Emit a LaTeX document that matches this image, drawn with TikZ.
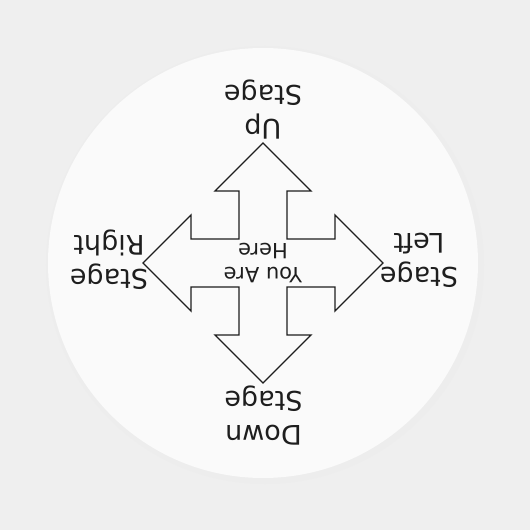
\documentclass[tikz,border=0pt]{standalone}
\usepackage{fontspec}
\setmainfont{DejaVu Sans}
\usepackage{tikz}
\usetikzlibrary{positioning}

\definecolor{bggray}{HTML}{EFEFEF}
\definecolor{buttonface}{HTML}{FAFAFA}
\definecolor{rimgray}{HTML}{EDEDED}
\definecolor{inkgray}{HTML}{1E1E1E}

\tikzset{
  stagelabel/.style={rotate=180,align=center,inner sep=0pt,text=inkgray,
    font=\fontsize{27}{34}\selectfont},
  herelabel/.style={rotate=180,align=center,inner sep=0pt,text=inkgray,
    font=\fontsize{21}{24.5}\selectfont},
  crossarrow/.style={draw=inkgray,line width=1.3pt,line join=miter,fill=buttonface}
}

\begin{document}
\begin{tikzpicture}[x=1pt,y=1pt]
        \fill[bggray] (-263,-267) rectangle (267,263);
        \useasboundingbox (-263,-267) rectangle (267,263);

        \fill[gray!12,opacity=.6] (4,-5) circle (221);
        \fill[rimgray] (2,-2) circle (219);
        \fill[buttonface] (0,0) circle (215);

        \draw[crossarrow] (0,120) -- (48,72) -- (24,72) -- (24,24) -- (72,24) -- (72,48)
          -- (120,0) -- (72,-48) -- (72,-24) -- (24,-24) -- (24,-72) -- (48,-72)
          -- (0,-120) -- (-48,-72) -- (-24,-72) -- (-24,-24) -- (-72,-24) -- (-72,-48)
          -- (-120,0) -- (-72,48) -- (-72,24) -- (-24,24) -- (-24,72) -- (-48,72) -- cycle;

        \node[stagelabel] (upstage) at (0,153) {Up\\Stage};
        \node[stagelabel] (stageleft) at (156,3) {Stage\\Left};
        \node[stagelabel] (stageright) at (-154,3) {Stage\\Right};
        \node[stagelabel] (downstage) at (0.5,-152.5) {Down\\Stage};
        \node[herelabel] (youarehere) at (0,0) {You Are\\Here};
      \end{tikzpicture}
\end{document}
